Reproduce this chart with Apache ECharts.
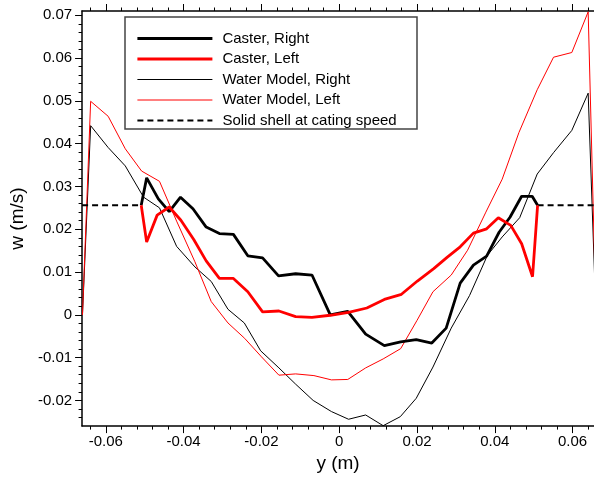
<!DOCTYPE html>
<html>
<head>
<meta charset="utf-8">
<script src="https://cdn.jsdelivr.net/npm/echarts@6/dist/echarts.min.js"></script>
<style>html,body{margin:0;padding:0;background:#fff;}#c{width:594px;height:478px;}</style>
</head>
<body>
<div id="c"></div>
<script>
const xMajor = [-0.06, -0.04, -0.02, 0, 0.02, 0.04, 0.06];
const xMinor = [-0.064,-0.056,-0.052,-0.048,-0.044,-0.036,-0.032,-0.028,-0.024,-0.016,-0.012,-0.008,-0.004,0.004,0.008,0.012,0.016,0.024,0.028,0.032,0.036,0.044,0.048,0.052,0.056,0.064];
const yMajor = [-0.02, -0.01, 0, 0.01, 0.02, 0.03, 0.04, 0.05, 0.06, 0.07];
const yMinor = [-0.024,-0.022,-0.018,-0.016,-0.014,-0.012,-0.008,-0.006,-0.004,-0.002,0.002,0.004,0.006,0.008,0.012,0.014,0.016,0.018,0.022,0.024,0.026,0.028,0.032,0.034,0.036,0.038,0.042,0.044,0.046,0.048,0.052,0.054,0.056,0.058,0.062,0.064,0.066,0.068];

const casterRight = [
  [-0.0509,0.0256],[-0.0495,0.0320],[-0.0465,0.0271],[-0.0437,0.0241],[-0.0408,0.0275],
  [-0.0376,0.0248],[-0.0342,0.0205],[-0.0308,0.0190],[-0.0272,0.0188],[-0.0235,0.0138],
  [-0.0197,0.0133],[-0.0156,0.0091],[-0.0112,0.0096],[-0.0070,0.0093],[-0.0023,0.0000],
  [0.0022,0.0008],[0.0068,-0.0045],[0.0116,-0.0072],[0.0158,-0.0063],[0.0198,-0.0058],
  [0.0238,-0.0066],[0.0275,-0.0031],[0.0311,0.0074],[0.0345,0.0116],[0.0379,0.0137],
  [0.0411,0.0193],[0.0439,0.0228],[0.0469,0.0277],[0.0496,0.0277],[0.0510,0.0256]
];
const casterLeft = [
  [-0.0509,0.0256],[-0.0495,0.0170],[-0.0468,0.0233],[-0.0437,0.0252],[-0.0407,0.0221],
  [-0.0374,0.0176],[-0.0342,0.0126],[-0.0308,0.0085],[-0.0272,0.0085],[-0.0235,0.0054],
  [-0.0197,0.0007],[-0.0155,0.0009],[-0.0112,-0.0004],[-0.0070,-0.0006],[-0.0023,-0.0001],
  [0.0024,0.0006],[0.0071,0.0016],[0.0116,0.0036],[0.0160,0.0048],[0.0201,0.0079],
  [0.0243,0.0108],[0.0278,0.0135],[0.0311,0.0159],[0.0345,0.0191],[0.0379,0.0201],
  [0.0409,0.0227],[0.0441,0.0209],[0.0469,0.0166],[0.0497,0.0089],[0.0510,0.0256]
];
const waterRight = [
  [-0.0660,0.0000],[-0.0639,0.0442],[-0.0594,0.0391],[-0.0550,0.0348],[-0.0503,0.0275],
  [-0.0462,0.0250],[-0.0418,0.0160],[-0.0371,0.0112],[-0.0329,0.0078],[-0.0286,0.0013],
  [-0.0244,-0.0019],[-0.0202,-0.0084],[-0.0155,-0.0124],[-0.0112,-0.0162],[-0.0067,-0.0200],
  [-0.0020,-0.0226],[0.0024,-0.0244],[0.0068,-0.0234],[0.0113,-0.0259],[0.0157,-0.0238],
  [0.0198,-0.0195],[0.0241,-0.0122],[0.0288,-0.0031],[0.0335,0.0045],[0.0381,0.0139],
  [0.0419,0.0182],[0.0464,0.0227],[0.0509,0.0329],[0.0551,0.0379],[0.0598,0.0431],
  [0.0640,0.0518],[0.0660,0.0000]
];
const waterLeft = [
  [-0.0660,0.0000],[-0.0639,0.0499],[-0.0594,0.0464],[-0.0550,0.0388],[-0.0508,0.0336],
  [-0.0462,0.0312],[-0.0418,0.0219],[-0.0371,0.0124],[-0.0329,0.0031],[-0.0286,-0.0019],
  [-0.0243,-0.0055],[-0.0200,-0.0098],[-0.0155,-0.0141],[-0.0112,-0.0138],[-0.0065,-0.0142],
  [-0.0020,-0.0152],[0.0022,-0.0151],[0.0068,-0.0124],[0.0113,-0.0103],[0.0158,-0.0079],
  [0.0200,-0.0013],[0.0241,0.0054],[0.0288,0.0093],[0.0330,0.0151],[0.0377,0.0240],
  [0.0419,0.0317],[0.0462,0.0426],[0.0509,0.0526],[0.0551,0.0602],[0.0598,0.0613],
  [0.0640,0.0708],[0.0660,0.0000]
];
const shellLevel = 0.0256;
const solidShell = [[-0.0661,shellLevel],[-0.0509,shellLevel],[0,'-'],[0.0510,shellLevel],[0.0660,shellLevel]];

const XMIN = -0.0661, XMAX = 0.0655, YMIN = -0.026, YMAX = 0.071;
const font = 'Liberation Sans, Arial, sans-serif';
const fmt = v => (v === 0 ? '0' : String(v));

function xAx(pos, vals, len, labels, line, extra) {
  return Object.assign({
    type: 'value', position: pos, min: XMIN, max: XMAX,
    axisLine: {show: line, onZero: false, lineStyle: {color: '#000', width: 1.5}},
    axisTick: {show: true, customValues: vals, length: len, lineStyle: {color: '#000', width: 1}},
    axisLabel: {show: labels, customValues: vals, formatter: fmt, fontSize: 15, fontFamily: font, color: '#000', margin: 8},
    splitLine: {show: false}
  }, extra || {});
}
function yAx(vals, len, labels, line, extra) {
  return Object.assign({
    type: 'value', position: 'left', min: YMIN, max: YMAX,
    axisLine: {show: line, onZero: false, lineStyle: {color: '#000', width: 1.5}},
    axisTick: {show: true, customValues: vals, length: len, lineStyle: {color: '#000', width: 1}},
    axisLabel: {show: labels, customValues: vals, formatter: fmt, fontSize: 15, fontFamily: font, color: '#000', margin: 10},
    splitLine: {show: false}
  }, extra || {});
}

const chart = echarts.init(document.getElementById('c'), null, {renderer: 'canvas'});
chart.setOption({
  animation: false,
  backgroundColor: '#fff',
  grid: {left: 78, right: 0, top: 11, bottom: 49},
  xAxis: [
    xAx('bottom', xMajor, 7, true, true, {name: 'y (m)', nameLocation: 'middle', nameGap: 26,
      nameTextStyle: {fontSize: 19, fontFamily: font, color: '#000'}}),
    xAx('bottom', xMinor, 3.5, false, false),
    xAx('top', xMajor, 7, false, true),
    xAx('top', xMinor, 3.5, false, false)
  ],
  yAxis: [
    yAx(yMajor, 7, true, true, {name: 'w (m/s)', nameLocation: 'middle', nameGap: 49,
      nameTextStyle: {fontSize: 19, fontFamily: font, color: '#000'}}),
    yAx(yMinor, 3.5, false, false)
  ],
  legend: {
    orient: 'vertical', left: 136, top: 31, padding: 0,
    itemWidth: 75, itemHeight: 14, itemGap: 5.5,
    itemStyle: {opacity: 0},
    textStyle: {fontSize: 15, fontFamily: font, color: '#000', padding: [0, 0, 0, 5]},
    data: [
      {name: 'Caster, Right', lineStyle: {width: 2.8}},
      {name: 'Caster, Left', lineStyle: {width: 2.8}},
      {name: 'Water Model, Right', lineStyle: {width: 1}},
      {name: 'Water Model, Left', lineStyle: {width: 1}},
      {name: 'Solid shell at cating speed', lineStyle: {width: 2}}
    ]
  },
  graphic: [{
    type: 'rect', shape: {x: 125, y: 17, width: 292, height: 112},
    style: {fill: 'none', stroke: '#444', lineWidth: 1.5}, z: 10
  }],
  series: [
    {name: 'Water Model, Right', type: 'line', data: waterRight, symbol: 'none', lineStyle: {color: '#000', width: 1}, itemStyle: {color: '#000'}},
    {name: 'Water Model, Left', type: 'line', data: waterLeft, symbol: 'none', lineStyle: {color: '#ff0000', width: 1}, itemStyle: {color: '#ff0000'}},
    {name: 'Solid shell at cating speed', type: 'line', data: solidShell, symbol: 'none', connectNulls: false,
      lineStyle: {color: '#000', width: 2, type: [6, 4]}, itemStyle: {color: '#000'}},
    {name: 'Caster, Right', type: 'line', data: casterRight, symbol: 'none', lineStyle: {color: '#000', width: 2.8}, itemStyle: {color: '#000'}},
    {name: 'Caster, Left', type: 'line', data: casterLeft, symbol: 'none', lineStyle: {color: '#ff0000', width: 2.8}, itemStyle: {color: '#ff0000'}}
  ]
});
</script>
</body>
</html>
